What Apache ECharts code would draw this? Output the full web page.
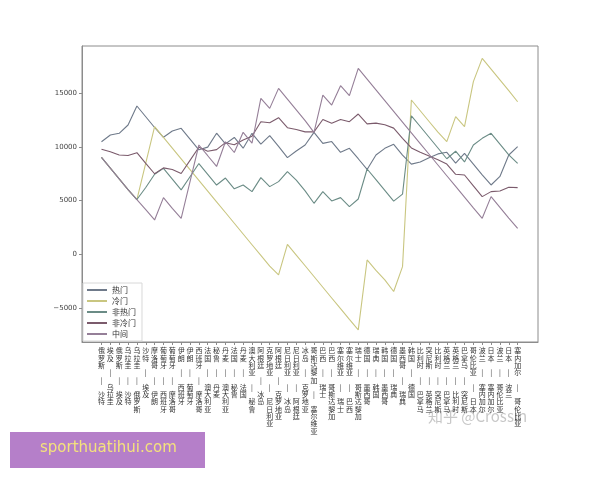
<!DOCTYPE html>
<html><head><meta charset="utf-8">
<script src="https://cdn.jsdelivr.net/npm/echarts@6/dist/echarts.min.js"></script>
<style>html,body{margin:0;padding:0;background:#fff}#c{width:600px;height:480px}</style>
</head><body><div id="c"></div>
<script>
const categories = [
 '俄罗斯 — 沙特','埃及 — 乌拉圭','俄罗斯 — 埃及','乌拉圭 — 沙特','乌拉圭 — 俄罗斯','沙特 — 埃及',
 '摩洛哥 — 伊朗','葡萄牙 — 西班牙','葡萄牙 — 摩洛哥','伊朗 — 西班牙','伊朗 — 葡萄牙','西班牙 — 摩洛哥',
 '法国 — 澳大利亚','秘鲁 — 丹麦','丹麦 — 澳大利亚','法国 — 秘鲁','丹麦 — 法国','澳大利亚 — 秘鲁',
 '阿根廷 — 冰岛','克罗地亚 — 尼日利亚','阿根廷 — 克罗地亚','尼日利亚 — 冰岛','尼日利亚 — 阿根廷','冰岛 — 克罗地亚',
 '哥斯达黎加 — 塞尔维亚','巴西 — 瑞士','巴西 — 哥斯达黎加','塞尔维亚 — 瑞士','塞尔维亚 — 巴西','瑞士 — 哥斯达黎加',
 '德国 — 墨西哥','瑞典 — 韩国','韩国 — 墨西哥','德国 — 瑞典','墨西哥 — 瑞典','韩国 — 德国',
 '比利时 — 巴拿马','突尼斯 — 英格兰','比利时 — 突尼斯','英格兰 — 巴拿马','英格兰 — 比利时','巴拿马 — 突尼斯',
 '哥伦比亚 — 日本','波兰 — 塞内加尔','日本 — 塞内加尔','波兰 — 哥伦比亚','日本 — 波兰','塞内加尔 — 哥伦比亚'
];
const seriesNames = ['热门','冷门','非热门','非冷门','中间'];
const hot = [10480,11110,11270,12040,13810,12810,11810,10900,11480,11730,10730,9730,9980,11280,10280,10880,9880,11265,10265,11050,10050,9000,9620,10180,11360,10330,10500,9500,9870,8900,7900,9250,9870,10240,9240,8400,8600,9000,9350,9500,8500,9400,8400,7400,6455,7250,9248,10024];
const cold = [9030,8030,7030,6030,5100,8500,11890,10890,9890,8890,7890,6890,5890,4890,3890,2890,1890,890,-110,-1110,-1920,930,-70,-1070,-2070,-3070,-4070,-5070,-6070,-7040,-530,-1500,-2390,-3470,-1150,14370,13370,12370,11370,10490,12820,11890,16080,18250,17250,16250,15250,14210];
const nonHot = [9030,8030,7030,6030,5100,6225,7450,8000,7000,6000,7225,8450,7450,6450,7100,6100,6455,5835,7138,6300,6766,7697,6900,5900,4749,5835,4966,5276,4438,5152,7945,6950,5950,4950,5600,12900,11900,10900,9900,8900,9600,8600,10179,10800,11265,10265,9265,8472];
const nonCold = [9776,9558,9250,9200,9466,8466,7500,8050,7895,7520,8745,9970,9595,9745,10395,10195,10645,11000,12350,12250,12724,11793,11620,11400,11400,12550,12200,12550,12351,13065,12150,12220,12060,11750,10800,9900,9500,9150,8800,8400,7450,7386,6380,5369,5835,5900,6250,6207];
const middle = [9030,8030,7030,6030,5100,4150,3200,5276,4276,3352,6760,10179,9180,8180,10480,9480,11358,10358,14523,13592,15454,14454,13454,12454,11358,14833,13902,15702,14771,17316,16316,15316,14316,13316,12316,11316,10316,9316,8316,7316,6316,5316,4316,3352,5369,4369,3369,2421];
const yTicks = [-5000,0,5000,10000,15000];

const colors = ['#6f7a8a','#c9c680','#6b8c86','#7b5b6c','#957f98'];
const allValues = [hot, cold, nonHot, nonCold, middle];
const xIdx = categories.map((_, i) => i);

const chart = echarts.init(document.getElementById('c'), null, {renderer:'canvas'});
const font = '"Noto Sans CJK SC","Noto Sans",sans-serif';
chart.setOption({
  animation:false,
  backgroundColor:'#fff',
  color: colors,
  grid:{left:82,right:62,top:46,bottom:138,show:true,borderColor:'#8c8c8c',borderWidth:1,backgroundColor:'transparent'},
  legend:{
    orient:'vertical', left:83, top:283, itemWidth:20, itemHeight:2, itemGap:3,
    icon:'rect', padding:[3,6,3,4],
    borderColor:'#d8d8d8', borderWidth:1, backgroundColor:'#fff',
    textStyle:{fontSize:8,color:'#333',fontFamily:font},
    data: seriesNames
  },
  xAxis:{
    type:'value', min:-2.2, max:49.3,
    axisLine:{show:true,onZero:false,lineStyle:{color:'#8c8c8c'}},
    splitLine:{show:false},
    axisTick:{show:true,length:3,lineStyle:{color:'#8c8c8c'},customValues:xIdx},
    axisLabel:{
      customValues:xIdx, margin:5, fontSize:7, lineHeight:7.3, color:'#333', fontFamily:font,
      align:'center', verticalAlign:'top',
      formatter:(v)=>{const s=categories[Math.round(v)]; if(!s) return ''; return s.replace('—','|').split('').join('\n');}
    }
  },
  yAxis:{
    type:'value', min:-8170, max:19400,
    axisLine:{show:true,onZero:false,lineStyle:{color:'#8c8c8c'}},
    splitLine:{show:false},
    axisTick:{show:true,length:3,lineStyle:{color:'#8c8c8c'},customValues:yTicks},
    axisLabel:{customValues:yTicks, fontSize:7, color:'#444', margin:5, fontFamily:'"DejaVu Sans",sans-serif',
      formatter:(v)=> v<0 ? '\u2212'+Math.abs(v) : String(v)}
  },
  series: seriesNames.map((n, k) => ({
    name:n, type:'line', showSymbol:false, symbol:'none',
    lineStyle:{width:1.1,color:colors[k]},
    data: allValues[k].map((v,i)=>[xIdx[i], v])
  })),
  graphic:[
    {type:'text', left:428, top:409, style:{text:'知乎 @Crossin', fontSize:15, fill:'rgba(180,180,180,0.75)', fontFamily:font}},
    {type:'rect', left:10, top:432, shape:{width:195,height:36}, style:{fill:'#b57fc9'}},
    {type:'text', left:40, top:441, style:{text:'sporthuatihui.com', fontSize:15, fill:'#f4e27c', fontFamily:'"DejaVu Sans",sans-serif'}}
  ]
});
</script></body></html>
